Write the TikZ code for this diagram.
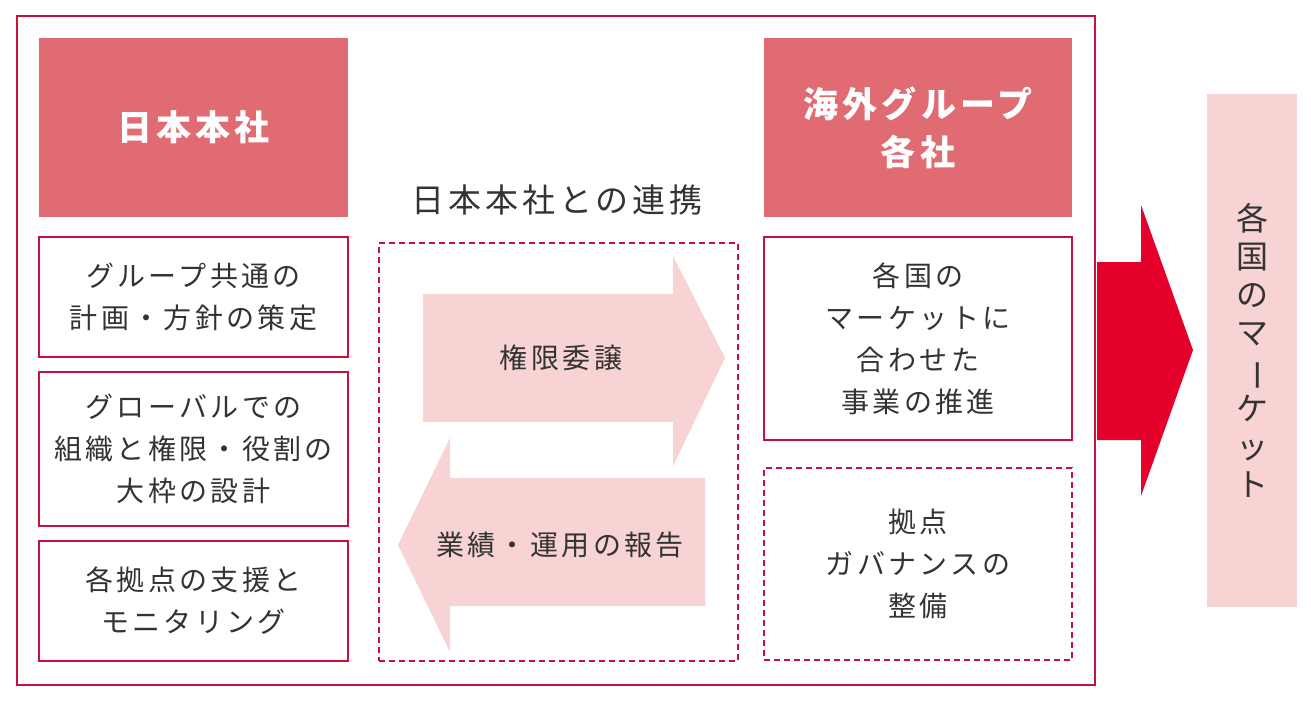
\documentclass[tikz,border=0pt]{standalone}
\usepackage{fontspec}
\setmainfont[LetterSpace=12]{Noto Sans CJK JP}
\definecolor{CFrame}{HTML}{C8103E}
\definecolor{CHead}{HTML}{E06B73}
\definecolor{CPale}{HTML}{F8D3D3}
\definecolor{CRed}{HTML}{E4002B}
\definecolor{CText}{HTML}{333333}
\tikzset{
  headbox/.style={fill=CHead, text=white, font=\fontsize{35}{48}\selectfont\bfseries, align=center, inner sep=0pt},
  itembox/.style={draw=CFrame, line width=1.4pt, text=CText, font=\fontsize{28}{42}\selectfont, align=center, inner sep=0pt},
  dashbox/.style={itembox, dashed, dash pattern=on 6pt off 4pt},
  label/.style={text=CText, font=\fontsize{28}{32}\selectfont, align=center}
}
\begin{document}
\begin{tikzpicture}[x=1pt,y=-1pt]
\useasboundingbox (0,0) rectangle (1311,701);
\draw [CFrame, line width=1.4pt] (17,16) rectangle (1095,685);
% left column
\node (hq) [headbox, minimum width=309pt, minimum height=179pt, at={(193.5,127.5)}] {日本本社};
\node (l1) [itembox, minimum width=309pt, minimum height=120pt, at={(193.5,297)}] {グループ共通の\\計画・方針の策定};
\node (l2) [itembox, minimum width=309pt, minimum height=154pt, at={(193.5,449)}] {グローバルでの\\組織と権限・役割の\\大枠の設計};
\node (l3) [itembox, minimum width=309pt, minimum height=120pt, at={(193.5,601)}] {各拠点の支援と\\モニタリング};
% middle
\node (link) [label, font=\fontsize{33}{36}\selectfont, at={(557,200)}] {日本本社との連携};
\node (mid) [dashbox, minimum width=359pt, minimum height=418pt, at={(558.5,452)}] {};
\fill [CPale] (423,294) -- (673,294) -- (673,256) -- (725,358) -- (673,466) -- (673,422) -- (423,422) -- cycle;
\fill [CPale] (705,478) -- (450,478) -- (450,438) -- (398,545) -- (450,652) -- (450,606) -- (705,606) -- cycle;
\node (down) [label, at={(561,358)}] {権限委譲};
\node (up) [label, at={(560,545)}] {業績・運用の報告};
% right column
\node (sub) [headbox, minimum width=308pt, minimum height=179pt, at={(918,127.5)}] {海外グループ\\各社};
\node (r1) [itembox, minimum width=308pt, minimum height=203pt, at={(918,338.5)}] {各国の\\マーケットに\\合わせた\\事業の推進};
\node (r2) [dashbox, minimum width=308pt, minimum height=192pt, at={(918,564)}] {拠点\\ガバナンスの\\整備};
% market
\fill [CRed] (1097,262) -- (1141,262) -- (1141,205) -- (1193,350) -- (1141,496) -- (1141,440) -- (1097,440) -- cycle;
\node (mkt) [fill=CPale, minimum width=90pt, minimum height=513pt, inner sep=0pt, at={(1252,350.5)}] {};
\node (mkttext) [label, font=\fontsize{32}{38}\selectfont, at={(mkt)}] {各\\国\\の\\マ\\\rotatebox[origin=c]{-90}{ー}\\ケ\\ッ\\ト};
\end{tikzpicture}
\end{document}
